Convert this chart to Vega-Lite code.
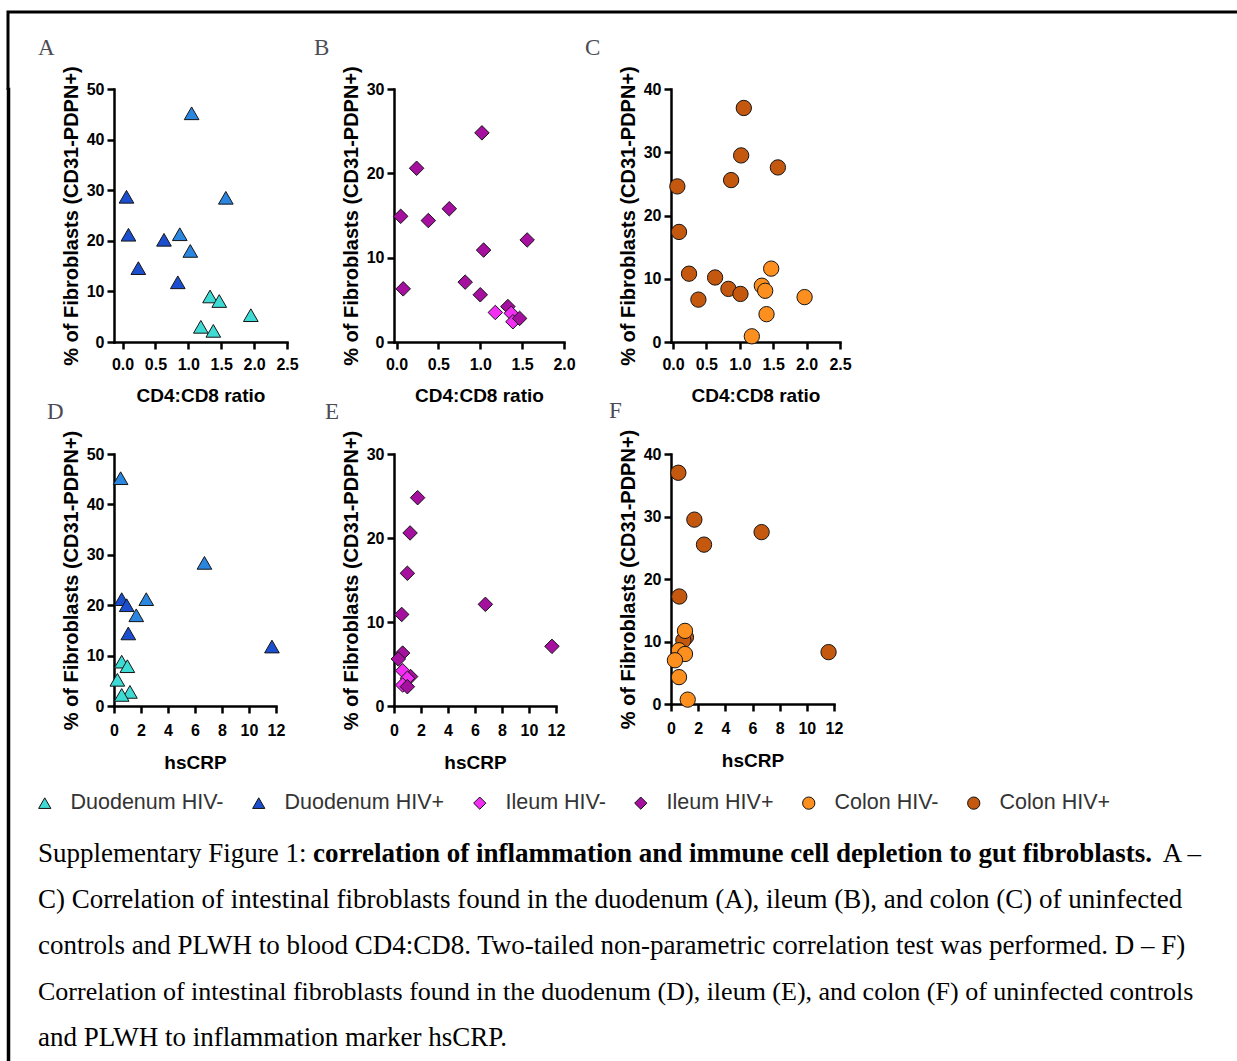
{
  "$schema": "https://vega.github.io/schema/vega-lite/v6.json",
  "background": "white",
  "padding": {"left": 5, "top": 9, "right": 0, "bottom": 0},
  "config": {
    "font": "Liberation Sans",
    "view": {"stroke": null},
    "axis": {"domainColor": "black", "domainWidth": 2.5, "domainCap": "square", "tickColor": "black", "tickWidth": 2.5, "tickSize": 7, "labelFont": "Liberation Sans", "labelFontWeight": "bold", "labelFontSize": 16, "labelColor": "black", "titleFont": "Liberation Sans", "titleFontWeight": "bold", "titleFontSize": 19, "titleColor": "black", "grid": false},
    "axisX": {"labelPadding": 7, "titlePadding": 14, "labelFlush": false, "labelOverlap": false},
    "axisY": {"labelPadding": 3, "titlePadding": 5, "titleFontSize": 20},
    "title": {"anchor": "start", "frame": "group", "font": "Liberation Serif", "fontSize": 23, "fontWeight": "normal", "color": "#4b4b55", "offset": 6},
    "legend": {"labelFont": "Liberation Sans", "labelFontSize": 21.5, "labelColor": "#333333", "symbolSize": 150, "symbolStrokeColor": "#111111", "symbolStrokeWidth": 1, "labelOffset": 15, "columnPadding": 24, "padding": 0}
  },
  "datasets": {
    "pts": [
      {"panel": "A", "group": "Duodenum HIV+ b", "x": 1.05, "y": 45.2},
      {"panel": "A", "group": "Duodenum HIV+ b", "x": 1.57, "y": 28.5},
      {"panel": "A", "group": "Duodenum HIV+", "x": 0.06, "y": 28.7},
      {"panel": "A", "group": "Duodenum HIV+", "x": 0.09, "y": 21.2},
      {"panel": "A", "group": "Duodenum HIV+ b", "x": 0.87, "y": 21.3},
      {"panel": "A", "group": "Duodenum HIV+", "x": 0.63, "y": 20.2},
      {"panel": "A", "group": "Duodenum HIV+ b", "x": 1.03, "y": 18.0},
      {"panel": "A", "group": "Duodenum HIV+", "x": 0.24, "y": 14.6},
      {"panel": "A", "group": "Duodenum HIV+", "x": 0.84, "y": 11.8},
      {"panel": "A", "group": "Duodenum HIV-", "x": 1.33, "y": 9.0},
      {"panel": "A", "group": "Duodenum HIV-", "x": 1.47, "y": 8.1},
      {"panel": "A", "group": "Duodenum HIV-", "x": 1.95, "y": 5.3},
      {"panel": "A", "group": "Duodenum HIV-", "x": 1.19, "y": 3.0},
      {"panel": "A", "group": "Duodenum HIV-", "x": 1.38, "y": 2.2},
      {"panel": "B", "group": "Ileum HIV+", "x": 1.02, "y": 24.8},
      {"panel": "B", "group": "Ileum HIV+", "x": 0.24, "y": 20.6},
      {"panel": "B", "group": "Ileum HIV+", "x": 0.05, "y": 14.9},
      {"panel": "B", "group": "Ileum HIV+", "x": 0.38, "y": 14.4},
      {"panel": "B", "group": "Ileum HIV+", "x": 0.63, "y": 15.8},
      {"panel": "B", "group": "Ileum HIV+", "x": 1.04, "y": 10.9},
      {"panel": "B", "group": "Ileum HIV+", "x": 1.56, "y": 12.1},
      {"panel": "B", "group": "Ileum HIV+", "x": 0.08, "y": 6.3},
      {"panel": "B", "group": "Ileum HIV+", "x": 0.82, "y": 7.1},
      {"panel": "B", "group": "Ileum HIV+", "x": 1.0, "y": 5.6},
      {"panel": "B", "group": "Ileum HIV-", "x": 1.18, "y": 3.5},
      {"panel": "B", "group": "Ileum HIV+", "x": 1.33, "y": 4.2},
      {"panel": "B", "group": "Ileum HIV-", "x": 1.37, "y": 3.4},
      {"panel": "B", "group": "Ileum HIV-", "x": 1.39, "y": 2.4},
      {"panel": "B", "group": "Ileum HIV+", "x": 1.47, "y": 2.8},
      {"panel": "C", "group": "Colon HIV+", "x": 1.06, "y": 37.0},
      {"panel": "C", "group": "Colon HIV+", "x": 1.02, "y": 29.5},
      {"panel": "C", "group": "Colon HIV+", "x": 1.57, "y": 27.6},
      {"panel": "C", "group": "Colon HIV+", "x": 0.87, "y": 25.6},
      {"panel": "C", "group": "Colon HIV+", "x": 0.065, "y": 24.6},
      {"panel": "C", "group": "Colon HIV+", "x": 0.09, "y": 17.4},
      {"panel": "C", "group": "Colon HIV+", "x": 0.24, "y": 10.8},
      {"panel": "C", "group": "Colon HIV+", "x": 0.38, "y": 6.7},
      {"panel": "C", "group": "Colon HIV+", "x": 0.63, "y": 10.2},
      {"panel": "C", "group": "Colon HIV+", "x": 0.83, "y": 8.4},
      {"panel": "C", "group": "Colon HIV+", "x": 1.01, "y": 7.6},
      {"panel": "C", "group": "Colon HIV-", "x": 1.33, "y": 8.9},
      {"panel": "C", "group": "Colon HIV-", "x": 1.38, "y": 8.1},
      {"panel": "C", "group": "Colon HIV-", "x": 1.47, "y": 11.6},
      {"panel": "C", "group": "Colon HIV-", "x": 1.4, "y": 4.4},
      {"panel": "C", "group": "Colon HIV-", "x": 1.97, "y": 7.1},
      {"panel": "C", "group": "Colon HIV-", "x": 1.18, "y": 0.9},
      {"panel": "D", "group": "Duodenum HIV+ b", "x": 0.49, "y": 45.2},
      {"panel": "D", "group": "Duodenum HIV+ b", "x": 6.7, "y": 28.4},
      {"panel": "D", "group": "Duodenum HIV+", "x": 0.57, "y": 21.2},
      {"panel": "D", "group": "Duodenum HIV+ b", "x": 2.39, "y": 21.2},
      {"panel": "D", "group": "Duodenum HIV+", "x": 0.94, "y": 20.0},
      {"panel": "D", "group": "Duodenum HIV+ b", "x": 1.65, "y": 18.0},
      {"panel": "D", "group": "Duodenum HIV+", "x": 1.06, "y": 14.4},
      {"panel": "D", "group": "Duodenum HIV+", "x": 11.7, "y": 11.8},
      {"panel": "D", "group": "Duodenum HIV-", "x": 0.57, "y": 8.8},
      {"panel": "D", "group": "Duodenum HIV-", "x": 0.99, "y": 7.9},
      {"panel": "D", "group": "Duodenum HIV-", "x": 0.25, "y": 5.2},
      {"panel": "D", "group": "Duodenum HIV-", "x": 1.18, "y": 2.8},
      {"panel": "D", "group": "Duodenum HIV-", "x": 0.57, "y": 2.2},
      {"panel": "E", "group": "Ileum HIV+", "x": 1.75, "y": 24.8},
      {"panel": "E", "group": "Ileum HIV+", "x": 1.19, "y": 20.6},
      {"panel": "E", "group": "Ileum HIV+", "x": 0.99, "y": 15.8},
      {"panel": "E", "group": "Ileum HIV+", "x": 0.57, "y": 10.9},
      {"panel": "E", "group": "Ileum HIV+", "x": 6.77, "y": 12.1},
      {"panel": "E", "group": "Ileum HIV+", "x": 11.7, "y": 7.1},
      {"panel": "E", "group": "Ileum HIV+", "x": 0.64, "y": 6.3},
      {"panel": "E", "group": "Ileum HIV+", "x": 0.32, "y": 5.6},
      {"panel": "E", "group": "Ileum HIV-", "x": 0.64, "y": 4.2},
      {"panel": "E", "group": "Ileum HIV+", "x": 1.23, "y": 3.5},
      {"panel": "E", "group": "Ileum HIV-", "x": 0.99, "y": 3.3},
      {"panel": "E", "group": "Ileum HIV-", "x": 0.64, "y": 2.5},
      {"panel": "E", "group": "Ileum HIV+", "x": 0.99, "y": 2.3},
      {"panel": "F", "group": "Colon HIV+", "x": 0.54, "y": 37.0},
      {"panel": "F", "group": "Colon HIV+", "x": 1.72, "y": 29.5},
      {"panel": "F", "group": "Colon HIV+", "x": 6.67, "y": 27.5},
      {"panel": "F", "group": "Colon HIV+", "x": 2.43, "y": 25.5},
      {"panel": "F", "group": "Colon HIV+", "x": 0.61, "y": 17.2},
      {"panel": "F", "group": "Colon HIV+", "x": 1.1, "y": 10.7},
      {"panel": "F", "group": "Colon HIV+", "x": 0.91, "y": 10.2},
      {"panel": "F", "group": "Colon HIV-", "x": 1.03, "y": 11.7},
      {"panel": "F", "group": "Colon HIV-", "x": 0.59, "y": 8.6},
      {"panel": "F", "group": "Colon HIV-", "x": 1.03, "y": 8.0},
      {"panel": "F", "group": "Colon HIV-", "x": 0.29, "y": 7.0},
      {"panel": "F", "group": "Colon HIV+", "x": 11.6, "y": 8.3},
      {"panel": "F", "group": "Colon HIV-", "x": 0.59, "y": 4.3},
      {"panel": "F", "group": "Colon HIV-", "x": 1.23, "y": 0.7}
    ],
    "cap": [
      {"line": 1, "segment": "label", "text": "Supplementary Figure 1:"},
      {"line": 1, "segment": "title", "text": "correlation of inflammation and immune cell depletion to gut fibroblasts."},
      {"line": 1, "segment": "lead", "text": "A –"},
      {"line": 2, "segment": "body", "text": "C) Correlation of intestinal fibroblasts found in the duodenum (A), ileum (B), and colon (C) of uninfected"},
      {"line": 3, "segment": "body", "text": "controls and PLWH to blood CD4:CD8. Two-tailed non-parametric correlation test was performed. D – F)"},
      {"line": 4, "segment": "body", "text": "Correlation of intestinal fibroblasts found in the duodenum (D), ileum (E), and colon (F) of uninfected controls"},
      {"line": 5, "segment": "body", "text": "and PLWH to inflammation marker hsCRP."}
    ]
  },
  "spacing": 0,
  "bounds": "flush",
  "vconcat": [
    {
      "width": 1228,
      "height": 76.5,
      "data": {"values": []},
      "mark": {"type": "point"},
      "view": {"stroke": "black", "strokeWidth": 3, "strokeCap": "square", "strokeDash": [1228, 1304.5, 76.5], "fill": null}
    },
    {
      "spacing": 27,
      "hconcat": [
        {
          "width": 1,
          "height": 972,
          "data": {"values": []},
          "mark": {"type": "point"},
          "view": {"stroke": "black", "strokeWidth": 2.5, "fill": "black"}
        },
        {
          "spacing": 68,
          "vconcat": [
            {
              "columns": 3,
              "bounds": "flush",
              "spacing": {"row": 112, "column": 107},
              "concat": [
                {
                  "width": 173, "height": 253,
                  "title": {"text": "A", "dx": -76},
                  "data": {"name": "pts"},
                  "transform": [{"filter": "datum.panel === 'A'"}],
                  "mark": {"type": "point", "filled": true, "opacity": 1, "stroke": "#151515", "strokeWidth": 1, "size": 215},
                  "encoding": {
                    "x": {"field": "x", "type": "quantitative", "title": "CD4:CD8 ratio", "scale": {"domain": [-0.13, 2.5], "nice": false, "zero": false}, "axis": {"values": [0, 0.5, 1, 1.5, 2, 2.5], "format": ".1f"}},
                    "y": {"field": "y", "type": "quantitative", "title": "% of Fibroblasts (CD31-PDPN+)", "scale": {"domain": [0, 50], "nice": false}, "axis": {"values": [0, 10, 20, 30, 40, 50]}},
                    "color": {"field": "group", "type": "nominal", "scale": {"domain": ["Duodenum HIV-", "Duodenum HIV+", "Ileum HIV-", "Ileum HIV+", "Colon HIV-", "Colon HIV+", "Duodenum HIV+ b"], "range": ["#3ddbd3", "#1b4fcf", "#f22ef2", "#a5109f", "#fd8f1f", "#c5580f", "#2b86e0"]}, "legend": {"title": null, "values": ["Duodenum HIV-", "Duodenum HIV+", "Ileum HIV-", "Ileum HIV+", "Colon HIV-", "Colon HIV+"], "orient": "none", "direction": "horizontal", "legendX": 26, "legendY": 780}},
                    "shape": {"field": "group", "type": "nominal", "scale": {"domain": ["Duodenum HIV-", "Duodenum HIV+", "Ileum HIV-", "Ileum HIV+", "Colon HIV-", "Colon HIV+", "Duodenum HIV+ b"], "range": ["triangle-up", "triangle-up", "diamond", "diamond", "circle", "circle", "triangle-up"]}, "legend": {"title": null, "values": ["Duodenum HIV-", "Duodenum HIV+", "Ileum HIV-", "Ileum HIV+", "Colon HIV-", "Colon HIV+"], "orient": "none", "direction": "horizontal", "legendX": 26, "legendY": 780}}
                  }
                },
                {
                  "width": 170, "height": 253,
                  "title": {"text": "B", "dx": -80},
                  "data": {"name": "pts"},
                  "transform": [{"filter": "datum.panel === 'B'"}],
                  "mark": {"type": "point", "filled": true, "opacity": 1, "stroke": "#151515", "strokeWidth": 1, "size": 210},
                  "encoding": {
                    "x": {"field": "x", "type": "quantitative", "title": "CD4:CD8 ratio", "scale": {"domain": [-0.03, 2.0], "nice": false, "zero": false}, "axis": {"values": [0, 0.5, 1, 1.5, 2], "format": ".1f"}},
                    "y": {"field": "y", "type": "quantitative", "title": "% of Fibroblasts (CD31-PDPN+)", "scale": {"domain": [0, 30], "nice": false}, "axis": {"values": [0, 10, 20, 30]}},
                    "color": {"field": "group", "type": "nominal", "scale": {"domain": ["Duodenum HIV-", "Duodenum HIV+", "Ileum HIV-", "Ileum HIV+", "Colon HIV-", "Colon HIV+", "Duodenum HIV+ b"], "range": ["#3ddbd3", "#1b4fcf", "#f22ef2", "#a5109f", "#fd8f1f", "#c5580f", "#2b86e0"]}, "legend": {"title": null, "values": ["Duodenum HIV-", "Duodenum HIV+", "Ileum HIV-", "Ileum HIV+", "Colon HIV-", "Colon HIV+"], "orient": "none", "direction": "horizontal", "legendX": 26, "legendY": 780}},
                    "shape": {"field": "group", "type": "nominal", "scale": {"domain": ["Duodenum HIV-", "Duodenum HIV+", "Ileum HIV-", "Ileum HIV+", "Colon HIV-", "Colon HIV+", "Duodenum HIV+ b"], "range": ["triangle-up", "triangle-up", "diamond", "diamond", "circle", "circle", "triangle-up"]}, "legend": {"title": null, "values": ["Duodenum HIV-", "Duodenum HIV+", "Ileum HIV-", "Ileum HIV+", "Colon HIV-", "Colon HIV+"], "orient": "none", "direction": "horizontal", "legendX": 26, "legendY": 780}}
                  }
                },
                {
                  "width": 169, "height": 253,
                  "title": {"text": "C", "dx": -86},
                  "data": {"name": "pts"},
                  "transform": [{"filter": "datum.panel === 'C'"}],
                  "mark": {"type": "point", "filled": true, "opacity": 1, "stroke": "#151515", "strokeWidth": 1, "size": 235},
                  "encoding": {
                    "x": {"field": "x", "type": "quantitative", "title": "CD4:CD8 ratio", "scale": {"domain": [-0.03, 2.5], "nice": false, "zero": false}, "axis": {"values": [0, 0.5, 1, 1.5, 2, 2.5], "format": ".1f"}},
                    "y": {"field": "y", "type": "quantitative", "title": "% of Fibroblasts (CD31-PDPN+)", "scale": {"domain": [0, 40], "nice": false}, "axis": {"values": [0, 10, 20, 30, 40]}},
                    "color": {"field": "group", "type": "nominal", "scale": {"domain": ["Duodenum HIV-", "Duodenum HIV+", "Ileum HIV-", "Ileum HIV+", "Colon HIV-", "Colon HIV+", "Duodenum HIV+ b"], "range": ["#3ddbd3", "#1b4fcf", "#f22ef2", "#a5109f", "#fd8f1f", "#c5580f", "#2b86e0"]}, "legend": {"title": null, "values": ["Duodenum HIV-", "Duodenum HIV+", "Ileum HIV-", "Ileum HIV+", "Colon HIV-", "Colon HIV+"], "orient": "none", "direction": "horizontal", "legendX": 26, "legendY": 780}},
                    "shape": {"field": "group", "type": "nominal", "scale": {"domain": ["Duodenum HIV-", "Duodenum HIV+", "Ileum HIV-", "Ileum HIV+", "Colon HIV-", "Colon HIV+", "Duodenum HIV+ b"], "range": ["triangle-up", "triangle-up", "diamond", "diamond", "circle", "circle", "triangle-up"]}, "legend": {"title": null, "values": ["Duodenum HIV-", "Duodenum HIV+", "Ileum HIV-", "Ileum HIV+", "Colon HIV-", "Colon HIV+"], "orient": "none", "direction": "horizontal", "legendX": 26, "legendY": 780}}
                  }
                },
                {
                  "width": 162, "height": 252,
                  "title": {"text": "D", "dx": -67},
                  "data": {"name": "pts"},
                  "transform": [{"filter": "datum.panel === 'D'"}],
                  "mark": {"type": "point", "filled": true, "opacity": 1, "stroke": "#151515", "strokeWidth": 1, "size": 215},
                  "encoding": {
                    "x": {"field": "x", "type": "quantitative", "title": "hsCRP", "scale": {"domain": [0, 12], "nice": false, "zero": false}, "axis": {"values": [0, 2, 4, 6, 8, 10, 12], "format": "d", "labelPadding": 9, "titlePadding": 15}},
                    "y": {"field": "y", "type": "quantitative", "title": "% of Fibroblasts (CD31-PDPN+)", "scale": {"domain": [0, 50], "nice": false}, "axis": {"values": [0, 10, 20, 30, 40, 50]}},
                    "color": {"field": "group", "type": "nominal", "scale": {"domain": ["Duodenum HIV-", "Duodenum HIV+", "Ileum HIV-", "Ileum HIV+", "Colon HIV-", "Colon HIV+", "Duodenum HIV+ b"], "range": ["#3ddbd3", "#1b4fcf", "#f22ef2", "#a5109f", "#fd8f1f", "#c5580f", "#2b86e0"]}, "legend": {"title": null, "values": ["Duodenum HIV-", "Duodenum HIV+", "Ileum HIV-", "Ileum HIV+", "Colon HIV-", "Colon HIV+"], "orient": "none", "direction": "horizontal", "legendX": 26, "legendY": 780}},
                    "shape": {"field": "group", "type": "nominal", "scale": {"domain": ["Duodenum HIV-", "Duodenum HIV+", "Ileum HIV-", "Ileum HIV+", "Colon HIV-", "Colon HIV+", "Duodenum HIV+ b"], "range": ["triangle-up", "triangle-up", "diamond", "diamond", "circle", "circle", "triangle-up"]}, "legend": {"title": null, "values": ["Duodenum HIV-", "Duodenum HIV+", "Ileum HIV-", "Ileum HIV+", "Colon HIV-", "Colon HIV+"], "orient": "none", "direction": "horizontal", "legendX": 26, "legendY": 780}}
                  }
                },
                {
                  "width": 162, "height": 252,
                  "title": {"text": "E", "dx": -69},
                  "data": {"name": "pts"},
                  "transform": [{"filter": "datum.panel === 'E'"}],
                  "mark": {"type": "point", "filled": true, "opacity": 1, "stroke": "#151515", "strokeWidth": 1, "size": 210},
                  "encoding": {
                    "x": {"field": "x", "type": "quantitative", "title": "hsCRP", "scale": {"domain": [0, 12], "nice": false, "zero": false}, "axis": {"values": [0, 2, 4, 6, 8, 10, 12], "format": "d", "labelPadding": 9, "titlePadding": 15}},
                    "y": {"field": "y", "type": "quantitative", "title": "% of Fibroblasts (CD31-PDPN+)", "scale": {"domain": [0, 30], "nice": false}, "axis": {"values": [0, 10, 20, 30]}},
                    "color": {"field": "group", "type": "nominal", "scale": {"domain": ["Duodenum HIV-", "Duodenum HIV+", "Ileum HIV-", "Ileum HIV+", "Colon HIV-", "Colon HIV+", "Duodenum HIV+ b"], "range": ["#3ddbd3", "#1b4fcf", "#f22ef2", "#a5109f", "#fd8f1f", "#c5580f", "#2b86e0"]}, "legend": {"title": null, "values": ["Duodenum HIV-", "Duodenum HIV+", "Ileum HIV-", "Ileum HIV+", "Colon HIV-", "Colon HIV+"], "orient": "none", "direction": "horizontal", "legendX": 26, "legendY": 780}},
                    "shape": {"field": "group", "type": "nominal", "scale": {"domain": ["Duodenum HIV-", "Duodenum HIV+", "Ileum HIV-", "Ileum HIV+", "Colon HIV-", "Colon HIV+", "Duodenum HIV+ b"], "range": ["triangle-up", "triangle-up", "diamond", "diamond", "circle", "circle", "triangle-up"]}, "legend": {"title": null, "values": ["Duodenum HIV-", "Duodenum HIV+", "Ileum HIV-", "Ileum HIV+", "Colon HIV-", "Colon HIV+"], "orient": "none", "direction": "horizontal", "legendX": 26, "legendY": 780}}
                  }
                },
                {
                  "width": 163, "height": 250,
                  "title": {"text": "F", "dx": -62},
                  "data": {"name": "pts"},
                  "transform": [{"filter": "datum.panel === 'F'"}],
                  "mark": {"type": "point", "filled": true, "opacity": 1, "stroke": "#151515", "strokeWidth": 1, "size": 235},
                  "encoding": {
                    "x": {"field": "x", "type": "quantitative", "title": "hsCRP", "scale": {"domain": [0, 12], "nice": false, "zero": false}, "axis": {"values": [0, 2, 4, 6, 8, 10, 12], "format": "d", "labelPadding": 9, "titlePadding": 15}},
                    "y": {"field": "y", "type": "quantitative", "title": "% of Fibroblasts (CD31-PDPN+)", "scale": {"domain": [0, 40], "nice": false}, "axis": {"values": [0, 10, 20, 30, 40]}},
                    "color": {"field": "group", "type": "nominal", "scale": {"domain": ["Duodenum HIV-", "Duodenum HIV+", "Ileum HIV-", "Ileum HIV+", "Colon HIV-", "Colon HIV+", "Duodenum HIV+ b"], "range": ["#3ddbd3", "#1b4fcf", "#f22ef2", "#a5109f", "#fd8f1f", "#c5580f", "#2b86e0"]}, "legend": {"title": null, "values": ["Duodenum HIV-", "Duodenum HIV+", "Ileum HIV-", "Ileum HIV+", "Colon HIV-", "Colon HIV+"], "orient": "none", "direction": "horizontal", "legendX": 26, "legendY": 780}},
                    "shape": {"field": "group", "type": "nominal", "scale": {"domain": ["Duodenum HIV-", "Duodenum HIV+", "Ileum HIV-", "Ileum HIV+", "Colon HIV-", "Colon HIV+", "Duodenum HIV+ b"], "range": ["triangle-up", "triangle-up", "diamond", "diamond", "circle", "circle", "triangle-up"]}, "legend": {"title": null, "values": ["Duodenum HIV-", "Duodenum HIV+", "Ileum HIV-", "Ileum HIV+", "Colon HIV-", "Colon HIV+"], "orient": "none", "direction": "horizontal", "legendX": 26, "legendY": 780}}
                  }
                }
              ]
            },
            {
              "width": 1087,
              "height": 184,
              "data": {"name": "cap"},
              "encoding": {
                "y": {"field": "line", "type": "ordinal", "axis": null, "scale": {"type": "point", "padding": 0}},
                "text": {"field": "text"}
              },
              "layer": [
                {
                  "transform": [{"filter": "(datum.segment === 'label' || datum.segment === 'body') && datum.line !== 4"}],
                  "mark": {"type": "text", "align": "left", "baseline": "middle", "font": "Liberation Serif", "fontSize": 27, "color": "black", "dx": -76},
                  "encoding": {"x": {"value": 0}}
                },
                {
                  "transform": [{"filter": "datum.segment === 'body' && datum.line === 4"}],
                  "mark": {"type": "text", "align": "left", "baseline": "middle", "font": "Liberation Serif", "fontSize": 26, "color": "black", "dx": -76},
                  "encoding": {"x": {"value": 0}}
                },
                {
                  "transform": [{"filter": "datum.segment === 'title'"}],
                  "mark": {"type": "text", "align": "left", "baseline": "middle", "font": "Liberation Serif", "fontSize": 27, "fontWeight": "bold", "color": "black", "dx": 199},
                  "encoding": {"x": {"value": 0}}
                },
                {
                  "transform": [{"filter": "datum.segment === 'lead'"}],
                  "mark": {"type": "text", "align": "right", "baseline": "middle", "font": "Liberation Serif", "fontSize": 27, "color": "black"},
                  "encoding": {"x": {"value": "width"}}
                }
              ]
            }
          ]
        }
      ]
    }
  ]
}
